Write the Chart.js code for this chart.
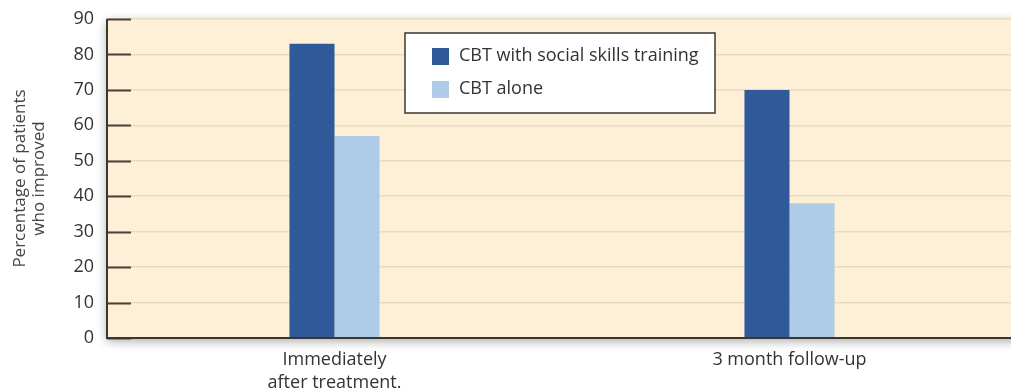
<!DOCTYPE html>
<html>
<head>
<meta charset="utf-8">
<script src="https://cdn.jsdelivr.net/npm/chart.js@4.4.0/dist/chart.umd.min.js"></script>
<style>
  html, body { margin: 0; padding: 0; background: #fff; }
  #wrap { width: 1011px; height: 391px; }
</style>
</head>
<body>
<div id="wrap"><canvas id="myChart" width="1011" height="391"></canvas></div>
<script>
// data
var categories = [['Immediately', 'after treatment.'], '3 month follow-up'];
var seriesNames = ['CBT with social skills training', 'CBT alone'];
var withSkills = [83, 70];
var alone = [57, 38];
var yTicks = [0, 10, 20, 30, 40, 50, 60, 70, 80, 90];

var darkBlue = '#30599a';
var lightBlue = '#aecbe8';
var plotBg = '#fdf0d6';
var fontFamily = '"Open Sans", sans-serif';
var padLeft = 11;

// the original plot runs a little past the right edge of the image
var stretchX = {
    id: 'stretchX',
    afterLayout: function (chart) {
        var x = chart.scales.x;
        x.right = x.left + 910;
        x.width = 910;
        x.configure();
    }
};

// plot background + shadow, drawn under everything
var backdrop = {
    id: 'backdrop',
    beforeDraw: function (chart) {
        var a = chart.chartArea;
        var c = chart.ctx;
        c.save();
        c.shadowColor = 'rgba(0,0,0,0.35)';
        c.shadowBlur = 10;
        c.shadowOffsetX = 0;
        c.shadowOffsetY = 3;
        c.fillStyle = plotBg;
        c.fillRect(a.left, a.top, a.right - a.left + 20, a.bottom - a.top);
        c.restore();
    }
};

// short dark tick stubs inside the plot + frame + legend box
var extras = {
    id: 'extras',
    afterDraw: function (chart) {
        var a = chart.chartArea;
        var c = chart.ctx;
        var y = chart.scales.y;
        c.save();
        c.strokeStyle = '#4a4238';
        c.lineWidth = 2;
        yTicks.forEach(function (v) {
            var py = Math.round(y.getPixelForValue(v)) + 0.5;
            c.beginPath();
            c.moveTo(a.left, py);
            c.lineTo(a.left + 24, py);
            c.stroke();
        });
        c.strokeStyle = '#3b3630';
        c.lineWidth = 2;
        c.beginPath();
        c.moveTo(a.left, a.top);
        c.lineTo(a.left, a.bottom);
        c.lineTo(a.right, a.bottom);
        c.stroke();

        // legend
        var lx = 405, ly = 33, lw = 310, lh = 80;
        c.fillStyle = '#ffffff';
        c.fillRect(lx, ly, lw, lh);
        c.strokeStyle = '#3b3630';
        c.lineWidth = 1.5;
        c.strokeRect(lx, ly, lw, lh);
        c.font = '18px ' + fontFamily;
        c.textBaseline = 'middle';
        chart.data.datasets.forEach(function (ds, i) {
            var iy = ly + 23 + i * 33;
            c.fillStyle = ds.backgroundColor;
            c.fillRect(lx + 27, iy - 8, 17, 17);
            c.fillStyle = '#333333';
            c.fillText(ds.label, lx + 54, iy);
        });
        c.restore();
    }
};

ctx = document.getElementById('myChart').getContext('2d');

var myChart = new Chart(ctx, {
    type: 'bar',
    data: {
        labels: categories,
        datasets: [{
            label: seriesNames[0],
            data: withSkills,
            backgroundColor: darkBlue,
            barPercentage: 1,
            categoryPercentage: 0.198
        }, {
            label: seriesNames[1],
            data: alone,
            backgroundColor: lightBlue,
            barPercentage: 1,
            categoryPercentage: 0.198
        }]
    },
    options: {
        responsive: false,
        animation: false,
        layout: { padding: { top: 0, right: 0, left: padLeft, bottom: 0 } },
        plugins: {
            legend: { display: false },
            tooltip: { enabled: false }
        },
        scales: {
            x: {
                grid: { display: false, drawTicks: false },
                border: { display: false },
                ticks: {
                    color: '#333333',
                    font: { family: fontFamily, size: 18, lineHeight: 1.3 },
                    padding: 10,
                    maxRotation: 0
                },
                afterFit: function (scale) { scale.height = 53; }
            },
            y: {
                min: 0,
                max: 90,
                afterBuildTicks: function (scale) {
                    scale.ticks = yTicks.map(function (v) { return { value: v }; });
                },
                grid: { color: '#e8dcc0', lineWidth: 1.5, drawTicks: false },
                border: { display: false },
                ticks: {
                    color: '#333333',
                    font: { family: fontFamily, size: 18 },
                    padding: 13
                },
                title: {
                    display: true,
                    text: ['Percentage of patients', 'who improved'],
                    color: '#444444',
                    font: { family: fontFamily, size: 17, lineHeight: 1.1 },
                    padding: { top: 0, bottom: 10 }
                },
                afterFit: function (scale) {
                    scale.width = 107 - padLeft;
                    scale.paddingTop = 19;
                }
            }
        }
    },
    plugins: [stretchX, backdrop, extras]
});
</script>
</body>
</html>
